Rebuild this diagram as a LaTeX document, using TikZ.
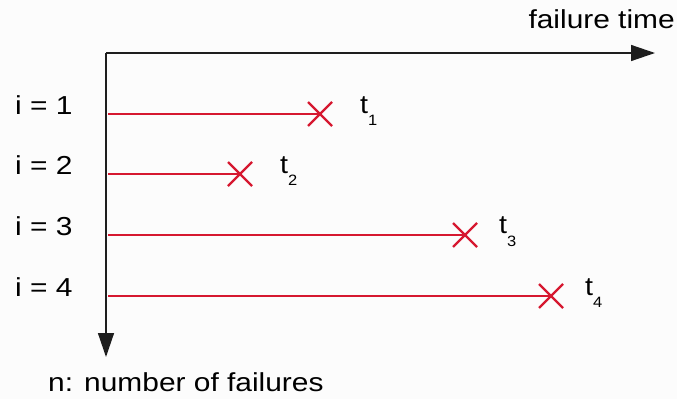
\documentclass[tikz,border=0pt]{standalone}
\usepackage{fontspec}
\setmainfont{Liberation Sans}
\usetikzlibrary{arrows.meta,calc}
\definecolor{runred}{RGB}{214,24,48}
\definecolor{axisgray}{RGB}{30,30,30}
\begin{document}
\begin{tikzpicture}[x=1pt,y=-1pt,
  axis/.style={draw=axisgray,line width=1.4pt,-{Triangle[length=24pt,width=16pt]}},
  run/.style={draw=runred,line width=2.2pt},
  cross/.style={draw=runred,line width=2.2pt},
  lbl/.style={font=\fontsize{26}{30}\selectfont,inner sep=0pt,xscale=1.15},
  tl/.style={font=\fontsize{26}{30}\selectfont,inner sep=0pt,anchor=west,xscale=1.1}]
\useasboundingbox (0,0) rectangle (677,399);
\fill[white!98!gray] (0,0) rectangle (677,399);
\coordinate (o) at (106,53);
\coordinate (xe) at (655,53);
\coordinate (ye) at (106,357);
\draw[axis] (o) -- (xe);
\draw[axis] (o) -- (ye);
\node[lbl,anchor=east] (ft) at (675,19) {failure time};
\node[lbl,anchor=west] (nf) at (48,382) {n: number of failures};
\foreach \i/\y/\x/\tx in {1/114/320/360,2/174/240/280,3/235/465/499,4/296/551/585}{
  \coordinate (s\i) at (108,\y);
  \coordinate (e\i) at (\x,\y);
  \draw[run] (s\i) -- (e\i);
  \draw[cross] ($(e\i)+(-12,-12)$) -- ($(e\i)+(12,12)$);
  \draw[cross] ($(e\i)+(-12,12)$) -- ($(e\i)+(12,-12)$);
  \node[lbl,anchor=west] (i\i) at (15,\y-9) {i = \i};
  \node[tl] (t\i) at (\tx,\y-3) {t\textsubscript{\raisebox{-9pt}{\fontsize{15}{17}\selectfont\i}}};
}
\end{tikzpicture}
\end{document}
